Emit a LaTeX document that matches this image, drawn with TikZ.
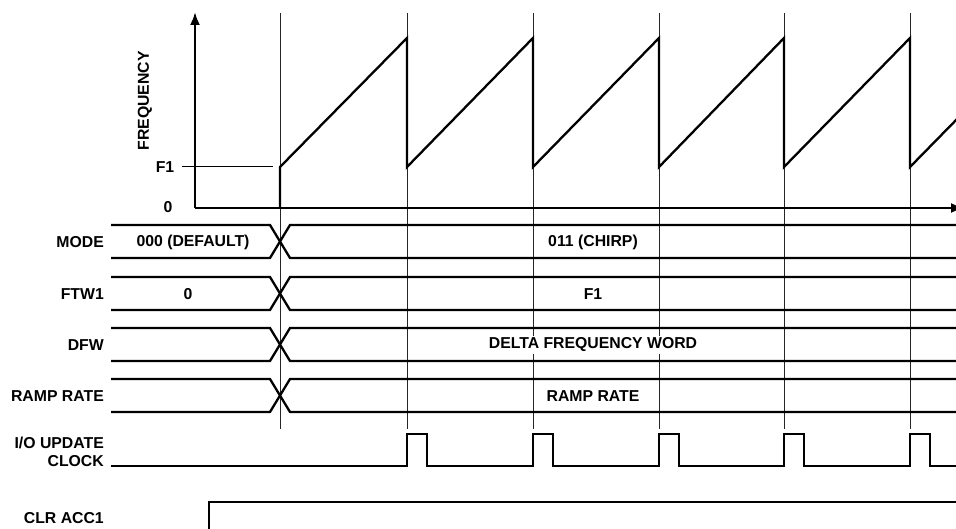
\documentclass[tikz,border=0pt]{standalone}
\usepackage{fontspec}
\setmainfont{Liberation Sans}
\usetikzlibrary{arrows.meta}

\begin{document}
\begin{tikzpicture}[
    x=1pt, y=-1pt,
    sig/.style={line width=2.3pt, line join=miter},
    grid/.style={line width=1pt, black!85},
    lbl/.style={font=\bfseries\fontsize{15.8}{18}\selectfont, inner sep=2pt},
    val/.style={lbl, fill=white},
    >={Latex[length=13pt, width=10pt]}
  ]
  \useasboundingbox (0,0) rectangle (956,529);
  \clip (0,0) rectangle (956,529);

  % time marks
  \foreach \t in {280,407,533,659,784,910}
    \draw[grid] (\t,13) -- (\t,429);

  % frequency plot
  \draw[sig, ->] (195,208) -- (195,12);
  \draw[sig, ->] (195,208) -- (964,208);
  \node[lbl, rotate=90] (freq) at (145,101) {FREQUENCY};
  \node[lbl] (zero) at (168,207) {0};
  \node[lbl] (fone) at (165,167) {F1};
  \coordinate (fstart) at (280,167);
  \draw[line width=1pt] ([xshift=6pt]fone.east) -- ([xshift=-7pt]fstart);
  \draw[sig] (280,208) -- (fstart)
    foreach \t in {407,533,659,784,910} { -- (\t,38) -- (\t,167) }
    -- (960,116);

  % register buses
  \foreach \name/\top/\lx/\lhs/\rhs [count=\i] in {
      MODE/225/193/000 (DEFAULT)/011 (CHIRP),
      FTW1/277/188/0/F1,
      DFW/328/188/{}/DELTA FREQUENCY WORD,
      RAMP RATE/379/188/{}/RAMP RATE} {
    \draw[sig] (111,\top) -- (270,\top) -- (290,\top+33) -- (956,\top+33);
    \draw[sig] (111,\top+33) -- (270,\top+33) -- (290,\top) -- (956,\top);
    \node[lbl, anchor=east] (lbl\i) at (106,\top+17) {\name};
    \node[val] (old\i) at (\lx,\top+17) {\lhs};
    \node[val] (new\i) at (593,\top+17) {\rhs};
  }

  % update clock
  \node[lbl, anchor=east, align=right] (clk) at (106,452) {I/O UPDATE\\CLOCK};
  \draw[sig] (111,466)
    foreach \t in {407,533,659,784,910} { -- (\t,466) -- (\t,434) -- (\t+20,434) -- (\t+20,466) }
    -- (956,466);

  % accumulator clear
  \node[lbl, anchor=east] (clr) at (106,518) {CLR ACC1};
  \draw[sig] (209,535) -- (209,502) -- (960,502);
\end{tikzpicture}
\end{document}
